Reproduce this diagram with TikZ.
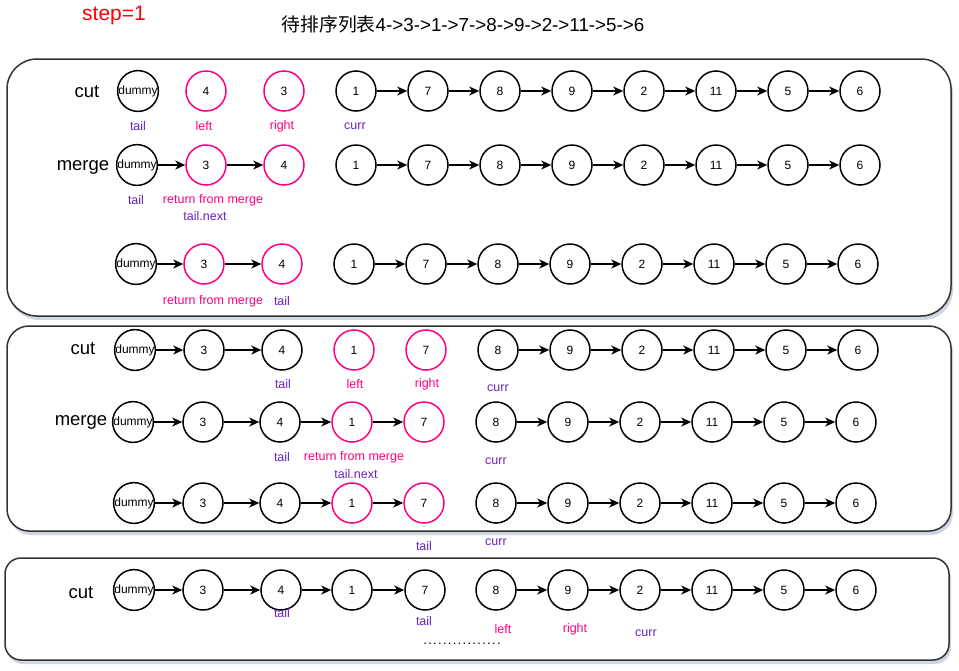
\documentclass[tikz,border=0pt]{standalone}
\usepackage{fontspec}
\setmainfont{Liberation Sans}
\newfontfamily\cjk{Noto Sans CJK SC}
\usetikzlibrary{arrows.meta,shadows}
\definecolor{pinkc}{HTML}{FF0080}
\definecolor{purc}{HTML}{6A22C0}
\definecolor{edgec}{HTML}{333333}
\definecolor{shadc}{HTML}{9AA0C0}
\begin{document}
\begin{tikzpicture}[x=1pt,y=-1pt,
  nd/.style={circle, draw=black, line width=1.5pt, minimum size=40pt, inner sep=0pt, font=\fontsize{12}{12}\selectfont},
  nb/.style={},
  pk/.style={draw=pinkc},
  arr/.style={-{Stealth[length=10pt,width=9pt,inset=3pt]}, line width=1.5pt},
  lp/.style={text=purc, font=\fontsize{12.5}{14}\selectfont, inner sep=0pt},
  lk/.style={text=pinkc, font=\fontsize{12.5}{14}\selectfont, inner sep=0pt},
  big/.style={font=\fontsize{18.5}{20}\selectfont, inner sep=0pt},
  panel/.style={draw=edgec, line width=1.5pt, fill=white,
    drop shadow={shadow xshift=2pt, shadow yshift=-4pt, opacity=0.45, fill=shadc}}]
\useasboundingbox (0,0) rectangle (959,670);

% title
\node[text=red, font=\fontsize{21}{22}\selectfont, inner sep=0pt] (step) at (114,15) {step=1};
\node[font=\fontsize{18.8}{20}\selectfont, inner sep=0pt] (title) at (463,24) {{\cjk 待排序列表}4->3->1->7->8->9->2->11->5->6};

% panels
\draw[panel, rounded corners=30pt] (7,59) rectangle (951,316);
\draw[panel, rounded corners=22pt] (7,326) rectangle (951,531);
\draw[panel, rounded corners=16pt] (5,558) rectangle (949,660);

% ---------- panel 1 ----------
\node[big] (cut1) at (87,92) {cut};
\foreach \v/\x/\s [count=\i] in {dummy/138/nb,4/206/pk,3/284/pk,1/356/nb,7/428/nb,8/500/nb,9/572/nb,2/644/nb,11/716/nb,5/788/nb,6/860/nb}
  \node[nd,\s] (a\i) at (\x,91) {\v};
\foreach \p/\q in {4/5,5/6,6/7,7/8,8/9,9/10,10/11}
  \draw[arr] (a\p) -- (a\q);
\node[lp] (a-tail) at (138,126) {tail};
\node[lk] (a-left) at (204,126) {left};
\node[lk] (a-right) at (282,126) {right};
\node[lp] (a-curr) at (355,126) {curr};

\node[big] (merge1) at (83,167) {merge};
\foreach \v/\x/\s [count=\i] in {dummy/137/nb,3/206/pk,4/284/pk,1/356/nb,7/428/nb,8/500/nb,9/572/nb,2/644/nb,11/716/nb,5/788/nb,6/860/nb}
  \node[nd,\s] (b\i) at (\x,165) {\v};
\foreach \p/\q in {1/2,2/3,4/5,5/6,6/7,7/8,8/9,9/10,10/11}
  \draw[arr] (b\p) -- (b\q);
\node[lp] (b-tail) at (136,200) {tail};
\node[lk] (b-ret) at (213,200) {return from merge};
\node[lp] (b-next) at (205,216) {tail.next};

\foreach \v/\x/\s [count=\i] in {dummy/136/nb,3/204/pk,4/282/pk,1/354/nb,7/426/nb,8/498/nb,9/570/nb,2/642/nb,11/714/nb,5/786/nb,6/858/nb}
  \node[nd,\s] (c\i) at (\x,264) {\v};
\foreach \p/\q in {1/2,2/3,4/5,5/6,6/7,7/8,8/9,9/10,10/11}
  \draw[arr] (c\p) -- (c\q);
\node[lk] (c-ret) at (213,301) {return from merge};
\node[lp] (c-tail) at (282,301) {tail};

% ---------- panel 2 ----------
\node[big] (cut2) at (83,349) {cut};
\foreach \v/\x/\s [count=\i] in {dummy/135/nb,3/204/nb,4/282/nb,1/354/pk,7/426/pk,8/498/nb,9/570/nb,2/642/nb,11/714/nb,5/786/nb,6/858/nb}
  \node[nd,\s] (d\i) at (\x,350) {\v};
\foreach \p/\q in {1/2,2/3,6/7,7/8,8/9,9/10,10/11}
  \draw[arr] (d\p) -- (d\q);
\node[lp] (d-tail) at (283,384) {tail};
\node[lk] (d-left) at (355,384) {left};
\node[lk] (d-right) at (427,384) {right};
\node[lp] (d-curr) at (498,388) {curr};

\node[big] (merge2) at (81,422) {merge};
\foreach \v/\x/\s [count=\i] in {dummy/133/nb,3/203/nb,4/280/nb,1/352/pk,7/424/pk,8/496/nb,9/568/nb,2/640/nb,11/712/nb,5/784/nb,6/856/nb}
  \node[nd,\s] (e\i) at (\x,422) {\v};
\foreach \p/\q in {1/2,2/3,3/4,4/5,6/7,7/8,8/9,9/10,10/11}
  \draw[arr] (e\p) -- (e\q);
\node[lp] (e-tail) at (282,457) {tail};
\node[lk] (e-ret) at (354,457) {return from merge};
\node[lp] (e-next) at (356,474) {tail.next};
\node[lp] (e-curr) at (496,461) {curr};

\foreach \v/\x/\s [count=\i] in {dummy/134/nb,3/203/nb,4/280/nb,1/352/pk,7/424/pk,8/496/nb,9/568/nb,2/640/nb,11/712/nb,5/784/nb,6/856/nb}
  \node[nd,\s] (f\i) at (\x,503) {\v};
\foreach \p/\q in {1/2,2/3,3/4,4/5,6/7,7/8,8/9,9/10,10/11}
  \draw[arr] (f\p) -- (f\q);
\node[lp] (f-curr) at (496,542) {curr};
\node[lp] (f-tail) at (424,546) {tail};

% ---------- panel 3 ----------
\node[big] (cut3) at (81,593) {cut};
\foreach \v/\x/\s [count=\i] in {dummy/134/nb,3/203/nb,4/281/nb,1/352/nb,7/425/nb,8/496/nb,9/568/nb,2/640/nb,11/712/nb,5/784/nb,6/856/nb}
  \node[nd,\s] (g\i) at (\x,590) {\v};
\foreach \p/\q in {1/2,2/3,3/4,4/5,6/7,7/8,8/9,9/10,10/11}
  \draw[arr] (g\p) -- (g\q);
\node[lp] (g-tail1) at (282,613) {tail};
\node[lp] (g-tail2) at (424,621) {tail};
\node[lk] (g-left) at (503,629) {left};
\node[lk] (g-right) at (575,629) {right};
\node[lp] (g-curr) at (646,633) {curr};
\node[font=\fontsize{13}{14}\selectfont\addfontfeature{LetterSpace=10}, inner sep=0pt] (dots) at (462,644) {................};
\end{tikzpicture}
\end{document}
